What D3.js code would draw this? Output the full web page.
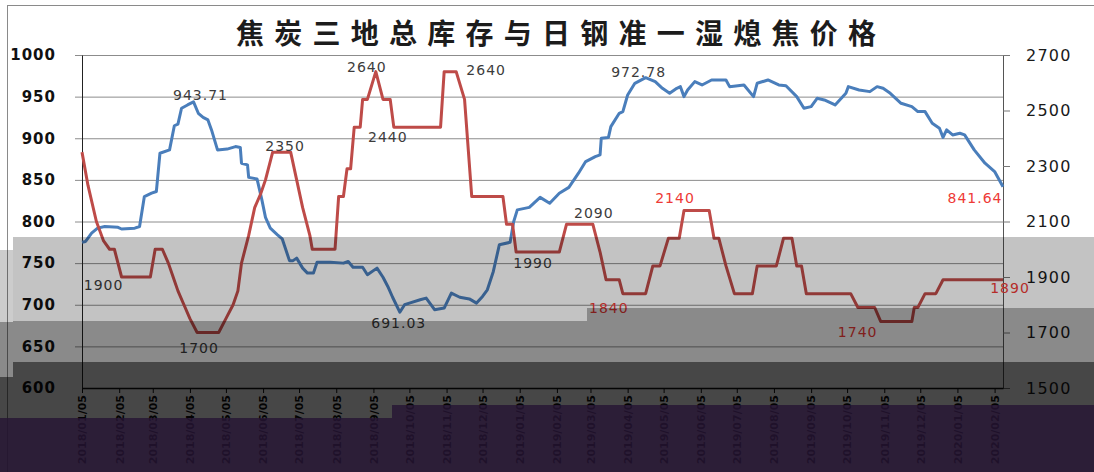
<!DOCTYPE html>
<html><head><meta charset="utf-8">
<script src="https://cdn.jsdelivr.net/npm/d3@7"></script>
<style>body{margin:0;background:#fff}svg{display:block}</style>
</head><body><svg id="c" width="1094" height="472"></svg>
<script>
const title = "焦炭三地总库存与日钢准一湿熄焦价格";
const xTickDates = ["2018-01-05","2018-02-05","2018-03-05","2018-04-05","2018-05-05","2018-06-05","2018-07-05","2018-08-05","2018-09-05","2018-10-05","2018-11-05","2018-12-05","2019-01-05","2019-02-05","2019-03-05","2019-04-05","2019-05-05","2019-06-05","2019-07-05","2019-08-05","2019-09-05","2019-10-05","2019-11-05","2019-12-05","2020-01-05","2020-02-05"];
const leftTicks = [600,650,700,750,800,850,900,950,1000];
const rightTicks = [1500,1700,1900,2100,2300,2500,2700];

// 焦炭三地总库存 (left axis)
const stockDates = ["2018-01-05","2018-01-08","2018-01-13","2018-01-18","2018-01-24","2018-02-04","2018-02-07","2018-02-18","2018-02-22","2018-02-26","2018-03-04","2018-03-08","2018-03-11","2018-03-19","2018-03-23","2018-03-26","2018-03-29","2018-04-03","2018-04-08","2018-04-12","2018-04-16","2018-04-20","2018-04-23","2018-04-28","2018-05-06","2018-05-13","2018-05-17","2018-05-18","2018-05-23","2018-05-24","2018-05-31","2018-06-04","2018-06-07","2018-06-11","2018-06-17","2018-06-21","2018-06-27","2018-06-30","2018-07-03","2018-07-08","2018-07-12","2018-07-17","2018-07-20","2018-07-31","2018-08-11","2018-08-15","2018-08-19","2018-08-27","2018-08-31","2018-09-08","2018-09-13","2018-09-17","2018-09-21","2018-09-27","2018-10-01","2018-10-05","2018-10-14","2018-10-19","2018-10-26","2018-11-03","2018-11-09","2018-11-16","2018-11-24","2018-11-30","2018-12-05","2018-12-09","2018-12-14","2018-12-19","2018-12-28","2018-12-31","2019-01-03","2019-01-13","2019-01-22","2019-01-30","2019-02-07","2019-02-15","2019-02-23","2019-03-01","2019-03-09","2019-03-13","2019-03-14","2019-03-20","2019-03-22","2019-03-29","2019-04-01","2019-04-05","2019-04-11","2019-04-20","2019-04-28","2019-05-04","2019-05-10","2019-05-16","2019-05-19","2019-05-22","2019-05-25","2019-05-31","2019-06-06","2019-06-14","2019-06-26","2019-06-29","2019-07-11","2019-07-19","2019-07-22","2019-07-31","2019-08-09","2019-08-15","2019-08-24","2019-08-30","2019-09-05","2019-09-10","2019-09-16","2019-09-25","2019-10-04","2019-10-06","2019-10-15","2019-10-24","2019-10-30","2019-11-04","2019-11-10","2019-11-19","2019-11-28","2019-12-03","2019-12-09","2019-12-15","2019-12-21","2019-12-24","2019-12-27","2020-01-01","2020-01-07","2020-01-11","2020-01-19","2020-01-28","2020-02-05","2020-02-12"];
const stockValues = [775,776,786,792,794,793,791,792,794,830,834,836,882,886,915,917,936,940,943.71,930,925,922,910,886,887,890,889,870,868,853,851,826,805,792,784,779,753,753,756,744,738,738,751,751,750,752,745,745,736,744,733,722,709,691.03,700,702,706,708,694,696,714,709,707,702,710,718,740,772,775,800,814,817,829,822,834,841,858,872,878,880,900,901,914,930,932,952,966,972.78,968,960,954,960,962,950,958,968,964,970,970,962,964,950,966,970,964,963,950,936,938,948,946,940,954,962,958,956,962,960,954,942,938,932,932,918,912,901,910,904,906,904,886,870,860,841.64];

// 日钢准一湿熄焦价格 (right axis)
const priceDates = ["2018-01-05","2018-01-10","2018-01-17","2018-01-23","2018-01-28","2018-02-01","2018-02-07","2018-03-03","2018-03-07","2018-03-13","2018-03-18","2018-03-22","2018-03-26","2018-03-31","2018-04-05","2018-04-11","2018-04-29","2018-05-05","2018-05-11","2018-05-15","2018-05-18","2018-05-24","2018-05-29","2018-06-03","2018-06-07","2018-06-13","2018-06-28","2018-07-03","2018-07-08","2018-07-14","2018-07-16","2018-08-04","2018-08-07","2018-08-11","2018-08-14","2018-08-17","2018-08-20","2018-08-25","2018-08-27","2018-08-31","2018-09-07","2018-09-13","2018-09-19","2018-09-22","2018-10-31","2018-11-03","2018-11-13","2018-11-20","2018-11-26","2018-12-22","2018-12-25","2018-12-30","2019-01-02","2019-02-07","2019-02-13","2019-03-07","2019-03-13","2019-03-18","2019-03-29","2019-04-01","2019-04-20","2019-04-26","2019-05-02","2019-05-09","2019-05-18","2019-05-22","2019-06-12","2019-06-16","2019-06-20","2019-06-26","2019-07-03","2019-07-18","2019-07-22","2019-08-07","2019-08-13","2019-08-20","2019-08-24","2019-08-28","2019-09-01","2019-10-08","2019-10-14","2019-10-28","2019-11-02","2019-11-28","2019-11-30","2019-12-03","2019-12-09","2019-12-18","2019-12-24","2020-02-12"];
const priceValues = [2350,2230,2100,2030,2000,2000,1900,1900,2000,2000,1950,1900,1850,1800,1750,1700,1700,1750,1800,1850,1950,2050,2150,2200,2250,2350,2350,2250,2150,2050,2000,2000,2190,2190,2290,2290,2440,2440,2540,2540,2640,2540,2540,2440,2440,2640,2640,2540,2190,2190,2090,2090,1990,1990,2090,2090,1990,1890,1890,1840,1840,1940,1940,2040,2040,2140,2140,2040,2040,1940,1840,1840,1940,1940,2040,2040,1940,1940,1840,1840,1790,1790,1740,1740,1790,1790,1840,1840,1890,1890];

// data labels: text, series, anchor date, anchor value
const labelTexts  = ["943.71","2350","2640","2440","2640","972.78","2090","2140","841.64","1900","1700","691.03","1990","1840","1740","1890"];
const labelSeries = ["stock","price","price","price","price","stock","price","price","stock","price","price","stock","price","price","price","price"];
const labelDates  = ["2018-04-08","2018-06-20","2018-09-07","2018-09-22","2018-11-13","2019-04-20","2019-02-25","2019-05-22","2020-02-12","2018-02-07","2018-04-11","2018-09-27","2019-01-02","2019-04-01","2019-11-02","2020-02-12"];
const labelValues = [943.71,2350,2640,2440,2640,972.78,2090,2140,841.64,1900,1700,691.03,1990,1840,1740,1890];
// label placement (style, not data)
const labelStyle = [
 {dx:7,dy:-2,red:false},{dx:4,dy:-1,red:false},{dx:-9,dy:0,red:false},{dx:-6,dy:15,red:false},
 {dx:30,dy:3,red:false},{dx:-7,dy:-1,red:false},{dx:13,dy:-6,red:false},{dx:-9,dy:-7,red:true},
 {dx:-28,dy:16,red:true},{dx:-18,dy:13,red:false},{dx:2,dy:20,red:false},{dx:-1,dy:16,red:false},
 {dx:17,dy:16,red:false},{dx:-14,dy:19,red:true},{dx:-23,dy:16,red:true},{dx:7,dy:13,red:true}];

const parse = d3.utcParse("%Y-%m-%d");
const W = 1094, H = 472;
const L = 82, R = 1003, T = 55, B = 388;
const svg = d3.select("#c");
svg.append("rect").attr("width", W).attr("height", H).attr("fill", "#fff");
svg.append("rect").attr("x", 7.5).attr("y", 5.5).attr("width", 1100).attr("height", 480)
  .attr("fill", "none").attr("stroke", "#8a8a8a");

svg.append("text").attr("x", 236).attr("y", 44)
  .attr("textLength", 640).attr("lengthAdjust", "spacing")
  .style("font-family", "'Noto Sans CJK SC'").style("font-size", "28px").style("font-weight", "700")
  .attr("fill", "#1c1c1c").text(title);

const x = d3.scaleUtc().domain([parse("2018-01-05"), parse("2020-02-12")]).range([L, R]);
const yL = d3.scaleLinear().domain([600, 1000]).range([B, T]);
const yR = d3.scaleLinear().domain([1500, 2700]).range([B, T]);

// gridlines
svg.append("g").attr("transform", `translate(${R},0)`)
  .call(d3.axisLeft(yL).tickValues(leftTicks.slice(1)).tickSize(R - 75).tickFormat(""))
  .call(g => g.select(".domain").remove())
  .selectAll("line").attr("stroke", "#8c8c8c").attr("stroke-width", 1);

// left axis
const gl = svg.append("g").attr("transform", `translate(${L},0)`)
  .call(d3.axisLeft(yL).tickValues(leftTicks).tickFormat(d3.format("d"))
    .tickSizeInner(0).tickSizeOuter(0).tickPadding(26));
gl.select(".domain").attr("stroke", "#222");
gl.selectAll("text").style("font-family", "'DejaVu Sans'").style("font-size", "15px")
  .style("font-weight", "700").style("letter-spacing", "1px").attr("fill", "#111");

// right axis
const gr = svg.append("g").attr("transform", `translate(${R},0)`)
  .call(d3.axisRight(yR).tickValues(rightTicks).tickFormat(d3.format("d"))
    .tickSizeInner(7).tickSizeOuter(0).tickPadding(16));
gr.select(".domain").attr("stroke", "#555");
gr.selectAll("line").attr("stroke", "#777");
gr.selectAll("text").style("font-family", "'DejaVu Sans'").style("font-size", "16px")
  .style("letter-spacing", "1.2px").attr("fill", "#1a1a1a");

// x axis
const gx = svg.append("g").attr("transform", `translate(0,${B})`)
  .call(d3.axisBottom(x).tickValues(xTickDates.map(parse)).tickSize(5).tickSizeOuter(0)
    .tickFormat(d3.utcFormat("%Y/%m/%d")));
gx.select(".domain").attr("stroke", "#111").attr("stroke-width", 1.6);
gx.selectAll("line").attr("stroke", "#111");
gx.selectAll("text").attr("transform", "rotate(-90)").attr("text-anchor", "end")
  .attr("x", -7).attr("y", 0).attr("dy", "0.35em")
  .style("font-family", "'DejaVu Sans'").style("font-size", "11px").style("font-weight", "700")
  .attr("fill", "#111");

// series
const stock = stockDates.map((d, i) => ({date: parse(d), v: stockValues[i]}));
const price = priceDates.map((d, i) => ({date: parse(d), v: priceValues[i]}));
svg.append("path").datum(stock).attr("fill", "none").attr("stroke", "#4a7ebb")
  .attr("stroke-width", 3).attr("stroke-linejoin", "round")
  .attr("d", d3.line().x(d => x(d.date)).y(d => yL(d.v)));
svg.append("path").datum(price).attr("fill", "none").attr("stroke", "#be4b48")
  .attr("stroke-width", 3).attr("stroke-linejoin", "round")
  .attr("d", d3.line().x(d => x(d.date)).y(d => yR(d.v)));

// data labels
labelTexts.forEach((t, i) => {
  const s = labelStyle[i];
  const px = x(parse(labelDates[i]));
  const py = labelSeries[i] === "stock" ? yL(labelValues[i]) : yR(labelValues[i]);
  svg.append("text").attr("x", px + s.dx).attr("y", py + s.dy).attr("text-anchor", "middle")
    .style("font-family", "'DejaVu Sans'").style("font-size", "14px").style("letter-spacing", "1px")
    .attr("fill", s.red ? "#ee3a36" : "#3c3c3c").text(t);
});

// scan artefact bands seen over the lower part of the reference image
const bands = [
  {x0:13,x1:1094,y0:237,y1:308,c:"#000",o:0.235},
  {x0:13,x1:587,y0:308,y1:321,c:"#000",o:0.235},
  {x0:0,x1:13,y0:250,y1:322,c:"#000",o:0.2},
  {x0:13,x1:587,y0:321,y1:362,c:"#000",o:0.46},
  {x0:587,x1:1094,y0:308,y1:362,c:"#000",o:0.46},
  {x0:0,x1:13,y0:322,y1:377,c:"#000",o:0.46},
  {x0:13,x1:392,y0:362,y1:418,c:"#000",o:0.72},
  {x0:392,x1:1094,y0:362,y1:405,c:"#000",o:0.72},
  {x0:0,x1:13,y0:377,y1:418,c:"#000",o:0.72},
  {x0:0,x1:392,y0:418,y1:472,c:"#21122c",o:0.95},
  {x0:392,x1:1094,y0:405,y1:472,c:"#21122c",o:0.95}
];
svg.append("g").selectAll("rect").data(bands).join("rect")
  .attr("x", d => d.x0).attr("y", d => d.y0).attr("width", d => d.x1 - d.x0).attr("height", d => d.y1 - d.y0)
  .attr("fill", d => d.c).attr("fill-opacity", d => d.o);
</script></body></html>
